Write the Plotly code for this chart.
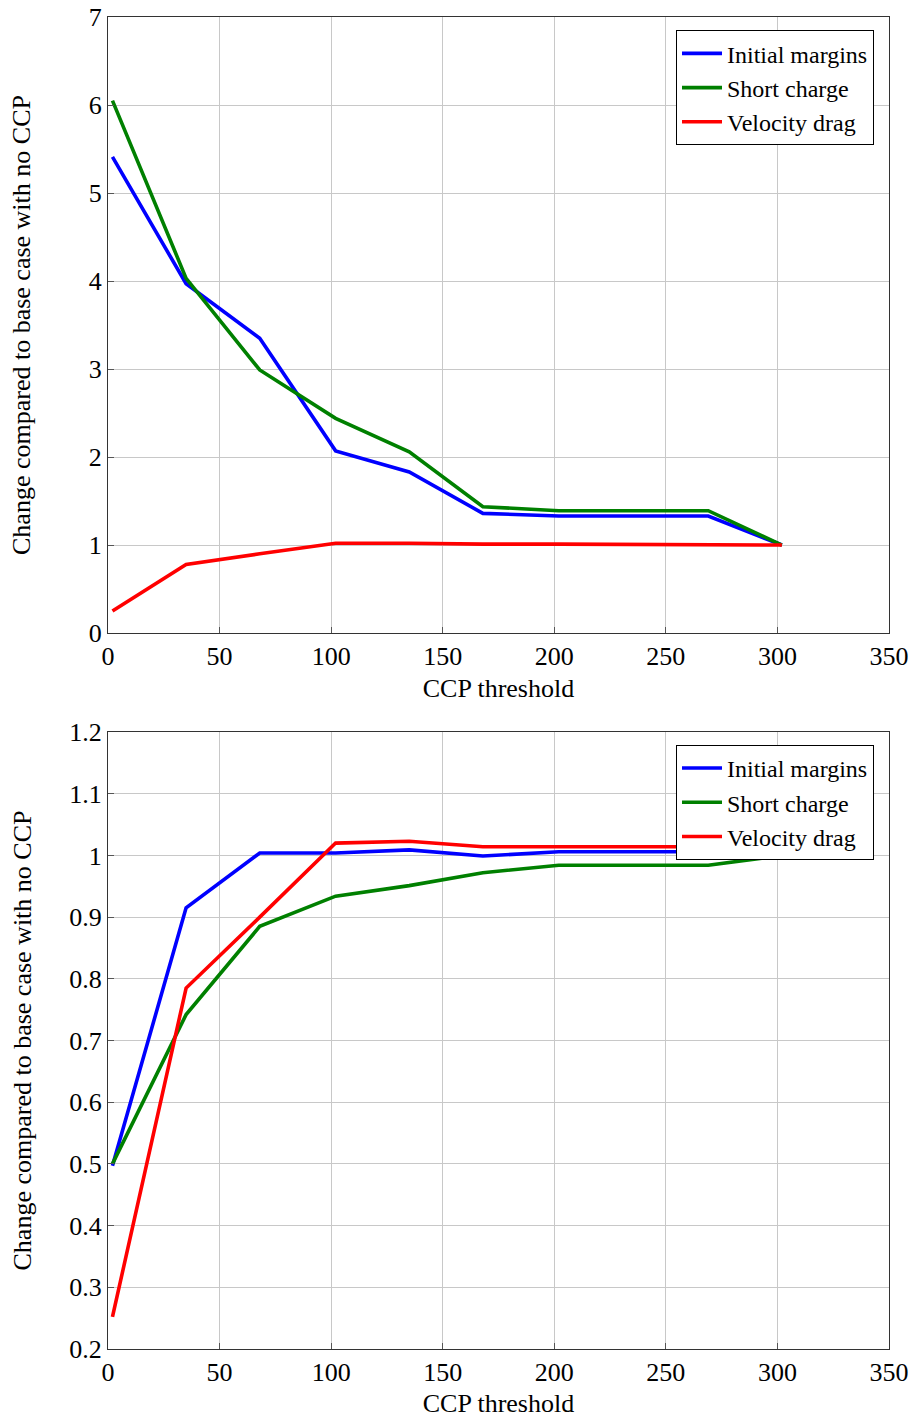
import plotly.graph_objects as go
from plotly.subplots import make_subplots

# CCP threshold values
ccp = [2, 35, 68, 102, 135, 168, 202, 235, 269, 302]

# top panel
top_initial = [5.41, 3.97, 3.35, 2.07, 1.83, 1.36, 1.33, 1.33, 1.33, 1.0]
top_short = [6.05, 4.03, 2.99, 2.44, 2.06, 1.435, 1.39, 1.39, 1.39, 1.0]
top_velocity = [0.25, 0.78, 0.90, 1.02, 1.02, 1.01, 1.01, 1.01, 1.01, 1.0]

# bottom panel
bot_initial = [0.497, 0.915, 1.004, 1.004, 1.009, 0.999, 1.006, 1.006, 1.006, 1.0]
bot_short = [0.5, 0.742, 0.885, 0.934, 0.951, 0.972, 0.984, 0.984, 0.984, 1.0]
bot_velocity = [0.252, 0.785, 0.90, 1.02, 1.023, 1.014, 1.014, 1.014, 1.014, 1.0]

names = ["Initial margins", "Short charge", "Velocity drag"]
colors = ["#0000ff", "#008000", "#ff0000"]

FONT = "Liberation Serif"
FS = 26

fig = make_subplots(rows=2, cols=1)

for i, ys in enumerate([top_initial, top_short, top_velocity]):
    fig.add_trace(go.Scatter(x=ccp, y=ys, mode="lines", name=names[i],
                             line=dict(color=colors[i], width=3.6),
                             legend="legend"), row=1, col=1)
for i, ys in enumerate([bot_initial, bot_short, bot_velocity]):
    fig.add_trace(go.Scatter(x=ccp, y=ys, mode="lines", name=names[i],
                             line=dict(color=colors[i], width=3.6),
                             legend="legend2"), row=2, col=1)

axis_style = dict(showline=True, mirror=True, linecolor="#333333", linewidth=1,
                  showgrid=True, gridcolor="#c8c8c8", gridwidth=1,
                  ticks="inside", ticklen=6, tickcolor="#555555",
                  zeroline=False, automargin=False,
                  tickfont=dict(size=FS, color="black"))

for r in (1, 2):
    fig.update_xaxes(range=[0, 350], dtick=50,
                     title=dict(text="CCP threshold", font=dict(size=FS), standoff=8),
                     **axis_style, row=r, col=1)

ytitle = "Change compared to base case with no CCP"
fig.update_yaxes(range=[0, 7], dtick=1, row=1, col=1, **axis_style,
                 title=dict(text=ytitle, font=dict(size=FS), standoff=50))
fig.update_yaxes(range=[0.2, 1.2], dtick=0.1, tickformat="~g", row=2, col=1, **axis_style,
                 title=dict(text=ytitle, font=dict(size=FS), standoff=30))

legend_style = dict(xanchor="right", yanchor="top",
                    bordercolor="black", borderwidth=1, bgcolor="white",
                    font=dict(size=24), tracegroupgap=0, itemwidth=40)

fig.update_layout(
    width=912, height=1418,
    margin=dict(l=108, r=23, t=17, b=69),
    paper_bgcolor="white", plot_bgcolor="white",
    font=dict(family=FONT, size=FS, color="black"),
    yaxis=dict(domain=[0.5375, 1.0]),
    yaxis2=dict(domain=[0.0, 0.4632]),
    legend=dict(x=0.9808, y=0.990, **legend_style),
    legend2=dict(x=0.9808, y=0.4535, **legend_style),
)

# drop the default page margin so the figure sits at the window's corner
fig.write_html("out.html", config={"displayModeBar": False},
               post_script="document.body.style.margin='0';")
